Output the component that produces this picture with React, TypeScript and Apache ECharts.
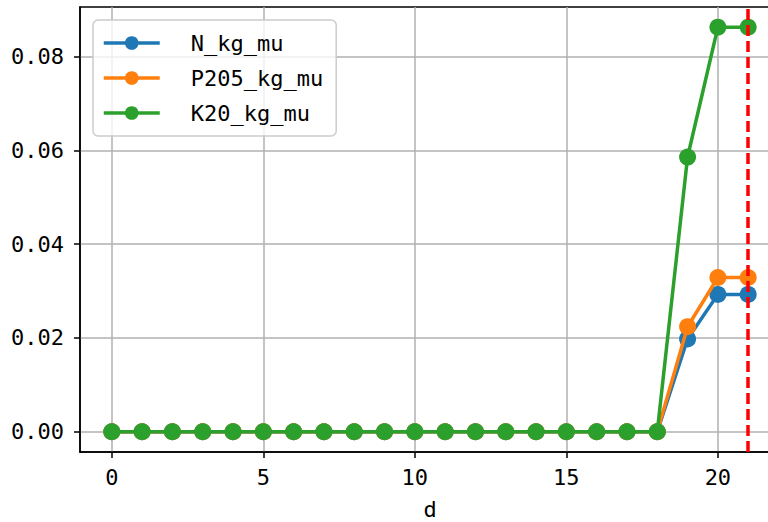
import React, { useEffect, useRef } from "react";
import * as echarts from "echarts";

const days = [0, 1, 2, 3, 4, 5, 6, 7, 8, 9, 10, 11, 12, 13, 14, 15, 16, 17, 18, 19, 20, 21];
const nValues = [0, 0, 0, 0, 0, 0, 0, 0, 0, 0, 0, 0, 0, 0, 0, 0, 0, 0, 0, 0.0198, 0.0293, 0.0293];
const pValues = [0, 0, 0, 0, 0, 0, 0, 0, 0, 0, 0, 0, 0, 0, 0, 0, 0, 0, 0, 0.0224, 0.0329, 0.0329];
const kValues = [0, 0, 0, 0, 0, 0, 0, 0, 0, 0, 0, 0, 0, 0, 0, 0, 0, 0, 0, 0.0586, 0.0863, 0.0863];
const seriesNames = ["N_kg_mu", "P205_kg_mu", "K20_kg_mu"];
const seriesColors = ["#1f77b4", "#ff7f0e", "#2ca02c"];
const xTicks = [0, 5, 10, 15, 20];
const yTicks = [0, 0.02, 0.04, 0.06, 0.08];
const markerDay = 21;
const xAxisName = "d";

const FONT = "DejaVu Sans Mono";

export default function App() {
  const ref = useRef<HTMLDivElement>(null);
  useEffect(() => {
    document.body.style.margin = "0";
    if (!ref.current) return;
    const chart = echarts.init(ref.current, null, { renderer: "svg" });
    const all = [nValues, pValues, kValues];
    const series: any[] = all.map((vals, i) => ({
      name: seriesNames[i],
      type: "line",
      data: days.map((d, j) => [d, vals[j]]),
      symbol: "circle",
      symbolSize: 17,
      showSymbol: true,
      lineStyle: { width: 3.5, color: seriesColors[i] },
      itemStyle: { color: seriesColors[i] },
      z: 3 + i,
    }));
    series.push({
      name: "vline",
      type: "line",
      data: [],
      z: 30,
      markLine: {
        silent: true,
        z: 30,
        symbol: ["none", "none"],
        label: { show: false },
        lineStyle: { color: "#ff0000", type: [11, 5], width: 3.5, opacity: 1 },
        emphasis: { disabled: true },
        data: [{ xAxis: markerDay }],
        animation: false,
      },
    });
    chart.setOption({
      animation: false,
      backgroundColor: "#ffffff",
      grid: {
        left: 80,
        top: 7,
        right: 0,
        bottom: 70,
        outerBoundsMode: "none",
        containLabel: false,
        show: true,
        borderColor: "#000000",
        borderWidth: 1.5,
        backgroundColor: "transparent",
      },
      legend: {
        data: seriesNames,
        orient: "vertical",
        left: 93,
        top: 20,
        padding: [12, 13, 12, 9],
        itemWidth: 56,
        itemHeight: 17,
        itemGap: 13,
        backgroundColor: "rgba(255,255,255,0.8)",
        borderColor: "#cccccc",
        borderWidth: 1.5,
        borderRadius: 5,
        lineStyle: { width: 3.5 },
        textStyle: { fontFamily: FONT, fontSize: 22, color: "#000", padding: [0, 0, 0, 26] },
      },
      xAxis: {
        type: "value",
        min: -1.05,
        max: 22.05,
        name: xAxisName,
        nameLocation: "middle",
        nameGap: 46,
        nameTextStyle: { fontFamily: FONT, fontSize: 22, color: "#000", lineHeight: 22 },
        axisLine: { show: true, onZero: false, lineStyle: { color: "#000", width: 1.5 } },
        axisTick: { show: true, length: 6, lineStyle: { color: "#000", width: 1.5 }, customValues: xTicks },
        axisLabel: { fontFamily: FONT, fontSize: 22, color: "#000", margin: 14, customValues: xTicks },
        splitLine: { show: true, lineStyle: { color: "#b0b0b0", width: 1.5 } },
      },
      yAxis: {
        type: "value",
        min: -0.00432,
        max: 0.0906,
        axisLine: { show: true, onZero: false, lineStyle: { color: "#000", width: 1.5 } },
        axisTick: { show: true, length: 6, lineStyle: { color: "#000", width: 1.5 }, customValues: yTicks },
        axisLabel: {
          fontFamily: FONT,
          fontSize: 22,
          color: "#000",
          margin: 16,
          customValues: yTicks,
          formatter: (v: number) => v.toFixed(2),
        },
        splitLine: { show: true, lineStyle: { color: "#b0b0b0", width: 1.5 } },
      },
      series,
    });
    return () => chart.dispose();
  }, []);
  return (
    <div style={{ width: 768, height: 522, overflow: "hidden", position: "relative" }}>
      <div ref={ref} style={{ width: 780, height: 522 }} />
    </div>
  );
}
